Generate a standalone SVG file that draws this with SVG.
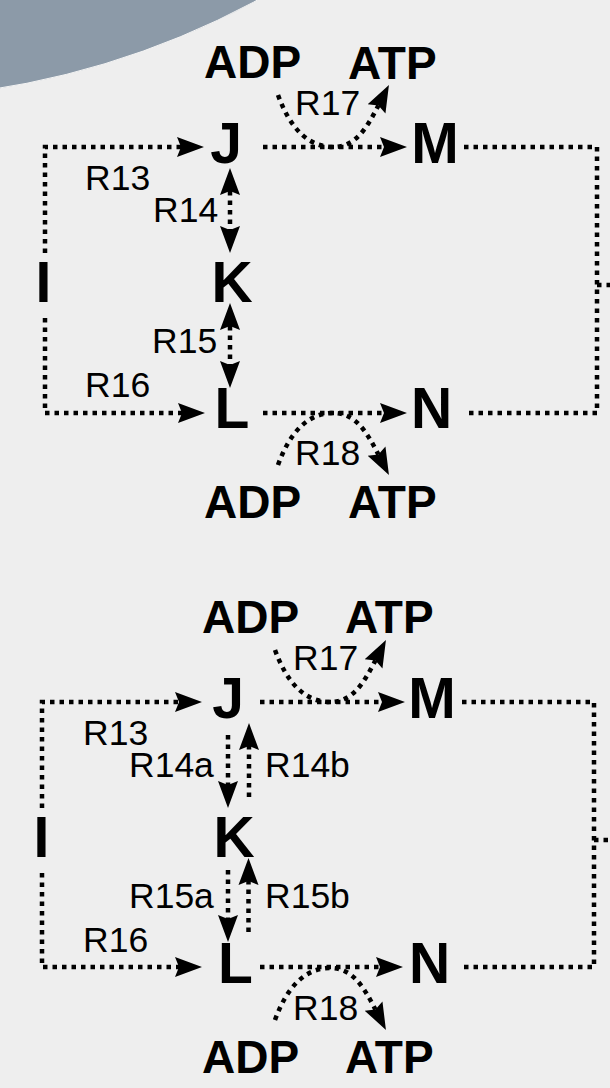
<svg xmlns="http://www.w3.org/2000/svg" width="610" height="1088" viewBox="0 0 610 1088">
<defs>
<style>
.n{font-family:"Liberation Sans",Arial,sans-serif;font-weight:bold;font-size:57px;fill:#000;text-anchor:middle}
.m{font-family:"Liberation Sans",Arial,sans-serif;font-weight:bold;font-size:46px;fill:#000}
.r{font-family:"Liberation Sans",Arial,sans-serif;font-size:35.5px;fill:#000}
.c{fill:none;stroke:#000;stroke-width:4.5;stroke-dasharray:4.5 5}
.a{marker-end:url(#ah)}
.d{marker-start:url(#ah);marker-end:url(#ah)}
</style>
<marker id="ah" markerUnits="userSpaceOnUse" markerWidth="30" markerHeight="24" viewBox="0 -12 30 24" refX="4" refY="0" orient="auto-start-reverse">
<path d="M0,-10 L27,0 L0,10 L4,0 z" fill="#000"/>
</marker>
</defs>
<rect width="610" height="1088" fill="#eeeeee"/>
<circle cx="-133" cy="-721" r="820" fill="#8c9aa8" stroke="#f4f4f4" stroke-width="1"/>

<g id="connectors">
<!-- top diagram -->
<path class="c a" d="M45,253 V147 H181"/>
<path class="c a" d="M45,318 V413 H182"/>
<path class="c a" d="M263,147 H384"/>
<path class="c a" d="M263,413 H384"/>
<path class="c" d="M464,147 H597 V413 H464"/>
<path class="c" d="M597,285 H612"/>
<path class="c d" d="M230,191 V230"/>
<path class="c d" d="M230,326 V365"/>
<path class="c a" d="M278,95 C290,128 308,147 333,147 C356,147 367,127.5 378.4,105.4"/>
<path class="c a" d="M278,465 C290,432 308,413 333,413 C356,413 367,432.5 378.4,454.6"/>
<!-- bottom diagram -->
<path class="c a" d="M42,808 V702 H179"/>
<path class="c a" d="M42,873 V967 H179"/>
<path class="c a" d="M260,702 H382"/>
<path class="c a" d="M260,967 H380"/>
<path class="c" d="M462,702 H594 V967 H462"/>
<path class="c" d="M594,840 H612"/>
<path class="c a" d="M228,735 V785"/>
<path class="c a" d="M249,797 V746"/>
<path class="c a" d="M228,870 V919"/>
<path class="c a" d="M248.5,932 V881"/>
<path class="c a" d="M275,650 C287,683 305,702 330,702 C353,702 364,682.5 375.4,660.4"/>
<path class="c a" d="M275,1020 C287,987 305,968 330,968 C353,968 364,987.5 375.4,1009.6"/>
</g>

<g id="labels">
<text class="r" x="85" y="190">R13</text>
<text class="r" x="153" y="222">R14</text>
<text class="r" x="152" y="353">R15</text>
<text class="r" x="85" y="397">R16</text>
<text class="r" x="295" y="115">R17</text>
<text class="r" x="295" y="465">R18</text>
<text class="r" x="83" y="745">R13</text>
<text class="r" x="129" y="777">R14a</text>
<text class="r" x="265" y="777">R14b</text>
<text class="r" x="129" y="908">R15a</text>
<text class="r" x="265" y="908">R15b</text>
<text class="r" x="83" y="952">R16</text>
<text class="r" x="293" y="670">R17</text>
<text class="r" x="293" y="1020">R18</text>
</g>

<g id="top-ADP-1"><text class="m" x="204" y="78">ADP</text></g>
<g id="top-ATP-1"><text class="m" x="348" y="79">ATP</text></g>
<g id="top-J"><text class="n" x="226" y="163">J</text></g>
<g id="top-M"><text class="n" x="435" y="163">M</text></g>
<g id="top-I"><text class="n" x="43.5" y="302">I</text></g>
<g id="top-K"><text class="n" x="232" y="302">K</text></g>
<g id="top-L"><text class="n" x="232" y="428">L</text></g>
<g id="top-N"><text class="n" x="431.5" y="428">N</text></g>
<g id="top-ADP-2"><text class="m" x="204" y="518">ADP</text></g>
<g id="top-ATP-2"><text class="m" x="348" y="518">ATP</text></g>

<g id="bot-ADP-1"><text class="m" x="202" y="633">ADP</text></g>
<g id="bot-ATP-1"><text class="m" x="345" y="633">ATP</text></g>
<g id="bot-J"><text class="n" x="228" y="718">J</text></g>
<g id="bot-M"><text class="n" x="432" y="718">M</text></g>
<g id="bot-I"><text class="n" x="41.5" y="857">I</text></g>
<g id="bot-K"><text class="n" x="234" y="857">K</text></g>
<g id="bot-L"><text class="n" x="235.5" y="983">L</text></g>
<g id="bot-N"><text class="n" x="429.5" y="983">N</text></g>
<g id="bot-ADP-2"><text class="m" x="202" y="1073">ADP</text></g>
<g id="bot-ATP-2"><text class="m" x="345" y="1073">ATP</text></g>
</svg>
